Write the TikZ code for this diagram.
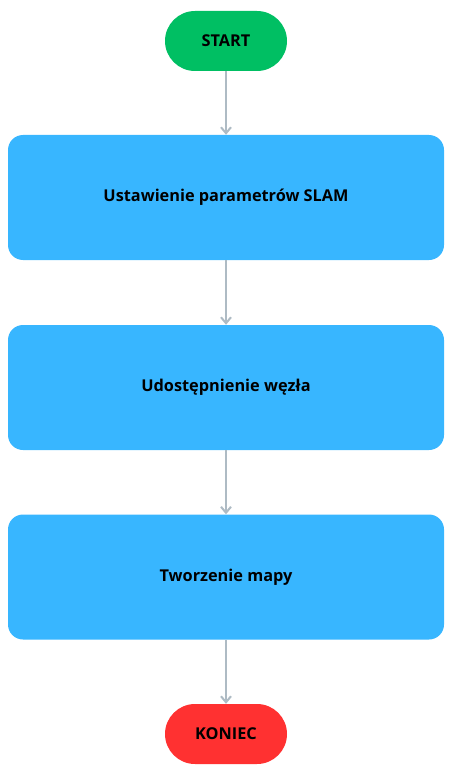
\documentclass[tikz,border=0pt]{standalone}
\usepackage{fontspec}
\setmainfont{Open Sans}
\usetikzlibrary{arrows.meta}
\definecolor{startg}{HTML}{00BF63}
\definecolor{endr}{HTML}{FF3131}
\definecolor{boxb}{HTML}{38B6FF}
\definecolor{arrg}{HTML}{AEBBC4}
\begin{document}
\begin{tikzpicture}[x=1pt,y=-1pt,
  pill/.style={rounded corners=30pt, minimum width=122pt, minimum height=60pt, inner sep=0pt, font=\fontsize{16.3}{19}\selectfont\bfseries},
  stepbox/.style={fill=boxb, rounded corners=15pt, minimum width=436pt, minimum height=125pt, inner sep=0pt, font=\fontsize{16.3}{19}\selectfont\bfseries},
  conn/.style={draw=arrg, line width=2pt, -{Straight Barb[length=6pt,width=10pt,line width=2pt]}, shorten >=0pt}]
\useasboundingbox (0,0) rectangle (457,778);
\node[pill, fill=startg] (start) at (226,41) {START};
\node[stepbox] (b1) at (226,197.5) {Ustawienie parametrów SLAM};
\node[stepbox] (b2) at (226,387.5) {Udostępnienie węzła};
\node[stepbox] (b3) at (226,577) {Tworzenie mapy};
\node[pill, fill=endr] (end) at (226,734) {KONIEC};
\draw[conn] (start) -- (b1);
\draw[conn] (b1) -- (b2);
\draw[conn] (b2) -- (b3);
\draw[conn] (b3) -- (end);
\end{tikzpicture}
\end{document}
